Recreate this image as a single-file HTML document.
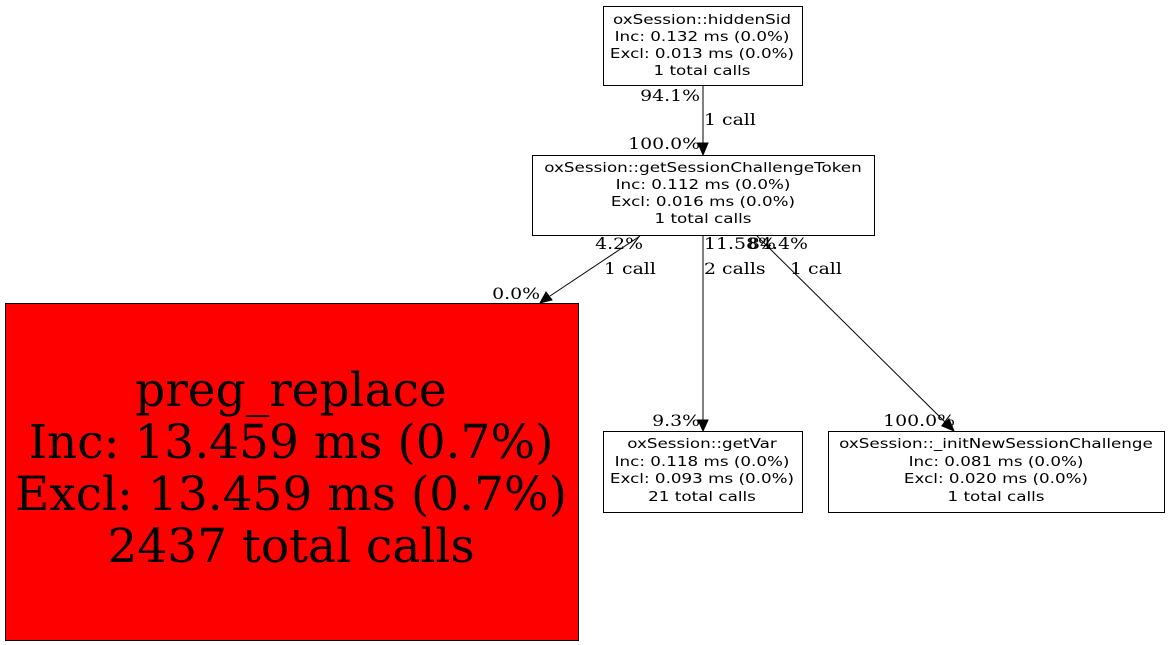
<!DOCTYPE html>
<html><head><meta charset="utf-8"><style>
html,body{margin:0;padding:0;background:#fff;}
svg{display:block;}
.n{font-family:"DejaVu Sans","Liberation Sans",sans-serif;font-size:13.3px;}
.e{font-family:"DejaVu Serif","Liberation Serif",serif;font-size:16px;}
.b{font-family:"DejaVu Serif","Liberation Serif",serif;font-size:47px;}
</style></head><body>
<svg width="1169" height="645" viewBox="0 0 1169 645" xmlns="http://www.w3.org/2000/svg">
<rect x="0" y="0" width="1169" height="645" fill="#fff"/>
<g fill="#fff" stroke="#000" stroke-width="1">
<rect x="603.5" y="6.5" width="199" height="79"/>
<rect x="532.5" y="155.5" width="342" height="80"/>
<rect x="5.5" y="303.5" width="573" height="337" fill="#ff0000"/>
<rect x="603.5" y="431.5" width="199" height="81"/>
<rect x="828.5" y="431.5" width="336" height="81"/>
</g>
<g class="n" text-anchor="middle">
<g transform="translate(702,0) scale(1.26,1)">
<text x="0" y="24">oxSession::hiddenSid</text>
<text x="0" y="41">Inc: 0.132 ms (0.0%)</text>
<text x="0" y="58">Excl: 0.013 ms (0.0%)</text>
<text x="0" y="75">1 total calls</text>
</g>
<g transform="translate(703,0) scale(1.26,1)">
<text x="0" y="172">oxSession::getSessionChallengeToken</text>
<text x="0" y="189">Inc: 0.112 ms (0.0%)</text>
<text x="0" y="206">Excl: 0.016 ms (0.0%)</text>
<text x="0" y="223">1 total calls</text>
</g>
<g transform="translate(702,0) scale(1.26,1)">
<text x="0" y="448">oxSession::getVar</text>
<text x="0" y="466">Inc: 0.118 ms (0.0%)</text>
<text x="0" y="483">Excl: 0.093 ms (0.0%)</text>
<text x="0" y="501">21 total calls</text>
</g>
<g transform="translate(996,0) scale(1.26,1)">
<text x="0" y="448">oxSession::_initNewSessionChallenge</text>
<text x="0" y="466">Inc: 0.081 ms (0.0%)</text>
<text x="0" y="483">Excl: 0.020 ms (0.0%)</text>
<text x="0" y="501">1 total calls</text>
</g>
</g>
<g class="b" text-anchor="middle">
<text x="291" y="406">preg_replace</text>
<text x="291" y="458">Inc: 13.459 ms (0.7%)</text>
<text x="291" y="510">Excl: 13.459 ms (0.7%)</text>
<text x="291" y="562">2437 total calls</text>
</g>
<g stroke="#000" stroke-width="1" fill="none">
<line x1="703" y1="86" x2="703" y2="144"/>
<line x1="640" y1="236" x2="550" y2="296"/>
<line x1="703" y1="236" x2="703" y2="420"/>
<line x1="757" y1="236" x2="946" y2="423"/>
</g>
<g fill="#000" stroke="#000">
<polygon points="698,143 708,143 703,155"/>
<polygon points="546,292 552,300 540,303"/>
<polygon points="698,420 708,420 703,431"/>
<polygon points="942,426 949,419 954,431"/>
</g>
<g class="e">
<text transform="translate(700,101) scale(1.18,1)" text-anchor="end">94.1%</text>
<text transform="translate(704,125) scale(1.18,1)">1 call</text>
<text transform="translate(700,149) scale(1.18,1)" text-anchor="end">100.0%</text>
<text transform="translate(643,249) scale(1.18,1)" text-anchor="end">4.2%</text>
<text transform="translate(604,274) scale(1.18,1)">1 call</text>
<text transform="translate(540,299) scale(1.18,1)" text-anchor="end">0.0%</text>
<text transform="translate(704,249) scale(1.18,1)">11.58%</text>
<text transform="translate(704,274) scale(1.18,1)">2 calls</text>
<text transform="translate(700,426) scale(1.18,1)" text-anchor="end">9.3%</text>
<text transform="translate(748,249) scale(1.18,1)">84.4%</text>
<text transform="translate(790,274) scale(1.18,1)">1 call</text>
<text transform="translate(955,426) scale(1.18,1)" text-anchor="end">100.0%</text>
</g>
</svg>
</body></html>
